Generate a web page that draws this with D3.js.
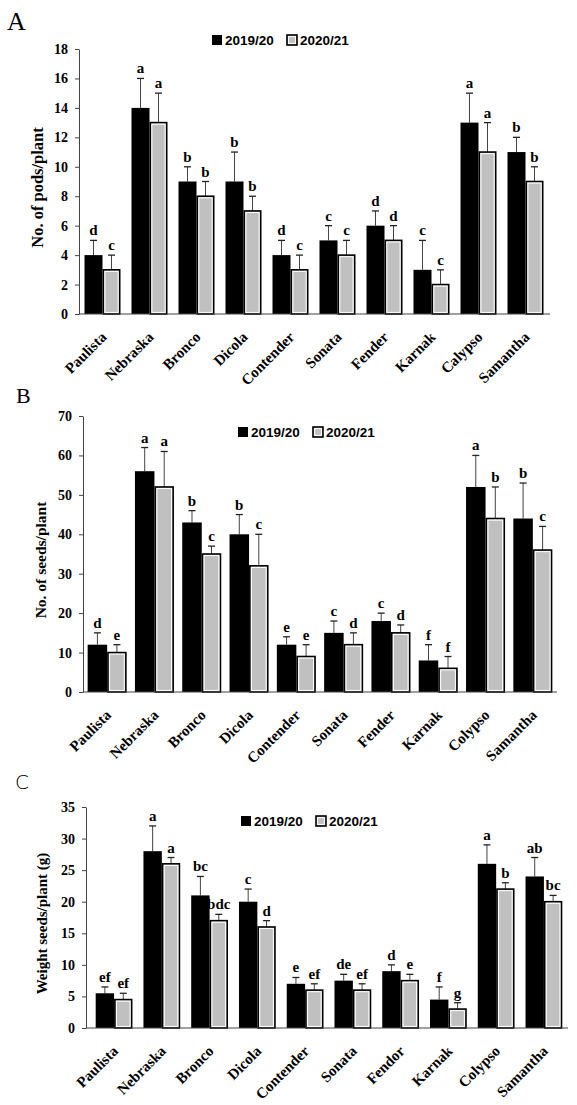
<!DOCTYPE html>
<html>
<head>
<meta charset="utf-8">
<script src="https://cdn.jsdelivr.net/npm/d3@7"></script>
<style>
  body { margin: 0; background: #fff; }
  svg { display: block; }
  .serif { font-family: "Liberation Serif", "Times New Roman", serif; font-weight: bold; }
</style>
</head>
<body>
<script>
// cultivars (panels B and C spell some of them differently)
const cultivarsA = ["Paulista", "Nebraska", "Bronco", "Dicola", "Contender", "Sonata", "Fender", "Karnak", "Calypso", "Samantha"];
const cultivarsB = ["Paulista", "Nebraska", "Bronco", "Dicola", "Contender", "Sonata", "Fender", "Karnak", "Colypso", "Samantha"];
const cultivarsC = ["Paulista", "Nebraska", "Bronco", "Dicola", "Contender", "Sonata", "Fendor", "Karnak", "Colypso", "Samantha"];
const seasons = ["2019/20", "2020/21"];

// A - no. of pods/plant
const pods1 = [4, 14, 9, 9, 4, 5, 6, 3, 13, 11];
const pods1Err = [1, 2, 1, 2, 1, 1, 1, 2, 2, 1];
const pods2 = [3, 13, 8, 7, 3, 4, 5, 2, 11, 9];
const pods2Err = [1, 2, 1, 1, 1, 1, 1, 1, 2, 1];
const pods1Let = ["d", "a", "b", "b", "d", "c", "d", "c", "a", "b"];
const pods2Let = ["c", "a", "b", "b", "c", "c", "d", "c", "a", "b"];

// B - no. of seeds/plant
const seeds1 = [12, 56, 43, 40, 12, 15, 18, 8, 52, 44];
const seeds1Err = [3, 6, 3, 5, 2, 3, 2, 4, 8, 9];
const seeds2 = [10, 52, 35, 32, 9, 12, 15, 6, 44, 36];
const seeds2Err = [2, 9, 2, 8, 3, 3, 2, 3, 8, 6];
const seeds1Let = ["d", "a", "b", "b", "e", "c", "c", "f", "a", "b"];
const seeds2Let = ["e", "a", "c", "c", "e", "d", "d", "f", "b", "c"];

// C - weight seeds/plant (g)
const weight1 = [5.5, 28, 21, 20, 7, 7.5, 9, 4.5, 26, 24];
const weight1Err = [1, 4, 3, 2, 1, 1, 1, 2, 3, 3];
const weight2 = [4.5, 26, 17, 16, 6, 6, 7.5, 3, 22, 20];
const weight2Err = [1, 1, 1, 1, 1, 1, 1, 1, 1, 1];
const weight1Let = ["ef", "a", "bc", "c", "e", "de", "d", "f", "a", "ab"];
const weight2Let = ["ef", "a", "bdc", "d", "ef", "ef", "e", "g", "b", "bc"];

const panels = [
  {letter: "A", letterFont: "Liberation Serif", letterSize: 26, letterX: 7, letterY: 30,
   title: "No. of pods/plant", titleX: 43, titleSize: 16.5,
   cats: cultivarsA, v1: pods1, e1: pods1Err, v2: pods2, e2: pods2Err, l1: pods1Let, l2: pods2Let,
   max: 18, step: 2, y0: 314, y1: 49, ax0: 79, ax1: 550, b0: 79, b1: 549, pad: 0.234,
   legX: 212, legY: 40},
  {letter: "B", letterFont: "Liberation Serif", letterSize: 22, letterX: 16, letterY: 403,
   title: "No. of seeds/plant", titleX: 46, titleSize: 15.5,
   cats: cultivarsB, v1: seeds1, e1: seeds1Err, v2: seeds2, e2: seeds2Err, l1: seeds1Let, l2: seeds2Let,
   max: 70, step: 10, y0: 692, y1: 416, ax0: 83, ax1: 557, b0: 83.5, b1: 556.5, pad: 0.175,
   legX: 238, legY: 432},
  {letter: "C", letterFont: "DejaVu Sans", letterSize: 20, letterX: 15, letterY: 789,
   title: "Weight seeds/plant (g)", titleX: 47, titleSize: 15,
   cats: cultivarsC, v1: weight1, e1: weight1Err, v2: weight2, e2: weight2Err, l1: weight1Let, l2: weight2Let,
   max: 35, step: 5, y0: 1028, y1: 807, ax0: 86, ax1: 568, b0: 90.2, b1: 567.8, pad: 0.23,
   legX: 241, legY: 821}
];

const svg = d3.select("body").append("svg")
  .attr("width", 577)
  .attr("height", 1105);

function greyBox(g, x, y, w, h) {
  g.append("rect").attr("x", x).attr("y", y).attr("width", w).attr("height", h)
    .attr("fill", "#c0c0c0").attr("stroke", "#000").attr("stroke-width", 1.6);
  if (w > 4 && h > 4) {
    g.append("rect").attr("x", x + 1.6).attr("y", y + 1.6)
      .attr("width", w - 3.2).attr("height", h - 3.2)
      .attr("fill", "none").attr("stroke", "#fff").attr("stroke-width", 1);
  }
}

panels.forEach(function(p) {
  const g = svg.append("g");

  const x = d3.scaleBand()
    .domain(p.cats)
    .range([p.b0, p.b1])
    .paddingInner(p.pad)
    .paddingOuter(p.pad / 2);
  const x2 = d3.scaleBand()
    .domain([0, 1])
    .range([0, x.bandwidth()]);
  const y = d3.scaleLinear()
    .domain([0, p.max])
    .range([p.y0, p.y1]);

  // panel letter
  g.append("text")
    .attr("x", p.letterX).attr("y", p.letterY)
    .style("font-family", p.letterFont)
    .style("font-weight", p.letter === "C" ? "300" : "normal")
    .style("font-size", p.letterSize + "px")
    .text(p.letter);

  // y axis
  const yAxis = g.append("g")
    .attr("transform", "translate(" + p.ax0 + ",0)")
    .call(d3.axisLeft(y).tickValues(d3.range(0, p.max + 0.01, p.step)).tickSize(4).tickSizeOuter(0).tickPadding(7));
  yAxis.selectAll("text")
    .attr("class", "serif")
    .style("font-size", "14px")
    .attr("fill", "#000");
  yAxis.select(".domain").attr("stroke", "#444");
  yAxis.selectAll(".tick line").attr("stroke", "#444");

  g.append("text")
    .attr("class", "serif")
    .attr("transform", "translate(" + p.titleX + "," + ((p.y0 + p.y1) / 2 + 6) + ") rotate(-90)")
    .attr("text-anchor", "middle")
    .style("font-size", p.titleSize + "px")
    .text(p.title);

  // bars
  const rows = p.cats.map(function(c, i) {
    return [
      {cat: c, k: 0, v: p.v1[i], e: p.e1[i], l: p.l1[i]},
      {cat: c, k: 1, v: p.v2[i], e: p.e2[i], l: p.l2[i]}
    ];
  });

  rows.forEach(function(pair) {
    pair.forEach(function(d) {
      const bx = x(d.cat) + x2(d.k);
      const bw = x2.bandwidth();
      const top = y(d.v);
      const cx = bx + bw / 2;
      const etop = y(d.v + d.e);

      // error bar (upper only)
      g.append("line")
        .attr("x1", cx).attr("x2", cx)
        .attr("y1", top).attr("y2", etop)
        .attr("stroke", "#444").attr("stroke-width", 1);
      g.append("line")
        .attr("x1", cx - 3.5).attr("x2", cx + 3.5)
        .attr("y1", etop).attr("y2", etop)
        .attr("stroke", "#222").attr("stroke-width", 1.3);

      if (d.k === 0) {
        g.append("rect")
          .attr("x", bx).attr("y", top)
          .attr("width", bw).attr("height", p.y0 - top)
          .attr("fill", "#000");
      } else {
        greyBox(g, bx + 0.8, top, bw - 1.6, p.y0 - top);
      }

      g.append("text")
        .attr("class", "serif")
        .attr("x", cx).attr("y", etop - 5)
        .attr("text-anchor", "middle")
        .style("font-size", "15px")
        .text(d.l);
    });
  });

  // x axis line
  g.append("line")
    .attr("x1", p.ax0).attr("x2", p.ax1)
    .attr("y1", p.y0).attr("y2", p.y0)
    .attr("stroke", "#444").attr("stroke-width", 1.2);

  // category labels slanted at 45 degrees
  p.cats.forEach(function(c) {
    const lx = x(c) + x.bandwidth() / 2 + 5;
    const ly = p.y0 + 24;
    g.append("g")
      .attr("transform", "translate(" + lx + "," + ly + ") rotate(-45)")
      .append("text")
      .attr("class", "serif")
      .style("font-size", "15px")
      .attr("text-anchor", "end")
      .text(c);
  });

  // legend
  const leg = g.append("g").attr("transform", "translate(" + p.legX + "," + p.legY + ")");
  leg.append("rect").attr("x", 0).attr("y", -5).attr("width", 10).attr("height", 10).attr("fill", "#000");
  leg.append("text")
    .attr("x", 13).attr("y", 5)
    .style("font-family", "Liberation Sans Narrow, Liberation Sans, sans-serif")
    .style("font-weight", "bold").style("font-size", "13.5px")
    .text(seasons[0]);
  greyBox(leg, 75, -5, 10, 10);
  leg.append("text")
    .attr("x", 88).attr("y", 5)
    .style("font-family", "Liberation Sans Narrow, Liberation Sans, sans-serif")
    .style("font-weight", "bold").style("font-size", "13.5px")
    .text(seasons[1]);
});
</script>
</body>
</html>
